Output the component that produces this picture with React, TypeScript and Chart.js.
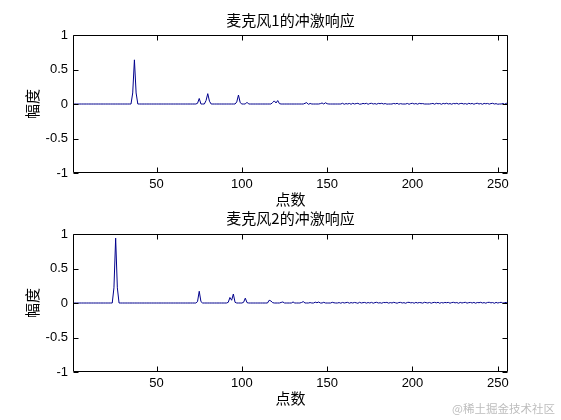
import React, { useEffect, useRef } from "react";
import { Chart, registerables } from "chart.js";

Chart.register(...registerables);

// ---------- data ----------
const sampleIndex: number[] = Array.from({ length: 256 }, (_, i) => i + 1);
const xTickValues = [50, 100, 150, 200, 250];
const yTickValues = [-1, -0.5, 0, 0.5, 1];

const chartTitles = ["麦克风1的冲激响应", "麦克风2的冲激响应"];
const xAxisLabel = "点数";
const yAxisLabel = "幅度";
const watermarkText = "@稀土掘金技术社区";

// 麦克风1 impulse response, samples 1..256 (16 per row)
const mic1Values = [
  0, 0, 0, 0, 0, 0, 0, 0, 0, 0, 0, 0, 0, 0, 0, 0,
  0, 0, 0, 0, 0, 0, 0, 0, 0, 0, 0, 0, 0, 0, 0, 0,
  0, 0, 0, 0.16, 0.64, 0.16, 0, 0, 0, 0, 0, 0, 0, 0, 0, 0,
  0, 0, 0, 0, 0, 0, 0, 0, 0, 0, 0, 0, 0, 0, 0, 0,
  0, 0, 0, 0, 0, 0, 0, 0, 0, 0.01, 0.08, 0, 0, 0, 0.05, 0.15,
  0.04, 0, 0, 0, 0, 0, 0, 0, 0, 0, 0, 0, 0, 0, 0, 0,
  0.03, 0.13, 0.02, 0, 0, 0, 0.025, 0, 0, 0, 0, 0, 0, 0, 0, 0,
  0, 0, 0, 0, 0, 0.02, 0.045, 0.015, 0.05, 0.005, 0, 0, 0, 0, 0, 0,
  0, 0, 0, 0, 0, 0, 0, 0, 0.01, 0.02, -0.005, 0.008, 0, 0, 0, 0,
  0, 0.005, 0.015, 0, 0.018, 0.004, 0, 0, 0, 0, 0, 0, 0, 0, 0.01, -0.004,
  0.006, 0, 0.008, -0.004, 0.01, 0, 0.006, 0.01, -0.003, 0, 0.008, 0.003, 0.01, -0.004, 0.007, 0.01,
  0, 0.006, -0.003, 0.009, 0.004, 0.01, 0, 0.007, -0.002, 0, 0, 0, 0.008, 0.002, 0.01, -0.003,
  0.005, 0, 0, 0, 0.008, -0.004, 0.006, 0.01, 0, 0.007, -0.003, 0.009, 0.004, 0.006, 0, 0,
  0, 0, 0.004, 0.008, -0.003, 0.01, 0.003, 0.007, -0.004, 0.009, 0.002, 0.011, 0, 0.006, -0.003, 0.008,
  0.003, 0.01, -0.002, 0.007, 0.009, 0, 0.006, -0.004, 0.01, 0.002, 0.008, -0.003, 0.006, 0.011, 0, 0.007,
  -0.004, 0.009, 0.003, 0.008, -0.002, 0.006, 0.01, 0, 0.005, -0.003, 0, 0, 0.008, -0.004, 0.01, 0.003,
];

// 麦克风2 impulse response, samples 1..256 (16 per row)
const mic2Values = [
  0, 0, 0, 0, 0, 0, 0, 0, 0, 0, 0, 0, 0, 0, 0, 0,
  0, 0, 0, 0, 0, 0, 0, 0, 0.22, 0.94, 0.22, 0, 0, 0, 0, 0,
  0, 0, 0, 0, 0, 0, 0, 0, 0, 0, 0, 0, 0, 0, 0, 0,
  0, 0, 0, 0, 0, 0, 0, 0, 0, 0, 0, 0, 0, 0, 0, 0,
  0, 0, 0, 0, 0, 0, 0, 0, 0, 0.02, 0.17, 0.02, 0, 0, 0, 0,
  0, 0, 0, 0, 0, 0, 0, 0, 0, 0, 0, 0.01, 0.08, 0.04, 0.13, 0.01,
  0, 0, 0, 0, 0.01, 0.07, 0.005, 0, 0, 0, 0, 0, 0, 0, 0, 0,
  0, 0, 0, 0.04, 0.03, 0.005, 0, 0, 0, 0, 0.008, 0.015, 0, 0, 0, 0,
  0, 0.015, 0, 0, 0, 0, 0.008, 0.02, 0, 0, 0, 0.006, 0, 0, 0.012, 0.004,
  0.014, 0, 0, 0.01, 0, 0, 0, 0, 0.01, 0.003, 0, 0, 0.006, -0.003, 0.008, 0,
  0.005, 0.009, -0.003, 0.006, 0, 0.008, 0.003, -0.004, 0.01, 0, 0.005, 0.008, -0.002, 0.007, 0, 0.009,
  -0.003, 0.006, 0.01, 0, 0.004, -0.003, 0.008, 0.005, 0.009, -0.002, 0.006, 0, 0.01, 0.003, -0.003, 0.007,
  0.009, 0, 0.005, -0.004, 0.008, 0.01, 0.002, 0.006, -0.003, 0.009, 0, 0.007, 0.004, -0.002, 0.01, 0.005,
  0, 0.008, -0.003, 0.006, 0.009, 0.002, 0.01, -0.004, 0.007, 0, 0.008, 0.004, 0.009, -0.003, 0.006, 0.01,
  0.002, 0.007, -0.004, 0.009, 0, 0.006, 0.01, -0.002, 0.005, 0.008, 0, 0.009, -0.003, 0.007, 0.004, 0.01,
  0, 0.006, -0.003, 0.008, 0.01, 0.002, 0.007, -0.004, 0.009, 0, 0.006, 0.01, -0.002, 0.005, 0.008, 0.003,
];

// ---------- styling ----------
const LINE_COLOR = "#00008c";
const TICK_FONT = { family: '"Liberation Sans", Arial, sans-serif', size: 13 };
const CJK_FONT = { family: '"Noto Sans CJK SC", sans-serif', size: 15 };

const boxPlugin = {
  id: "matlabBox",
  afterDraw(chart: any) {
    const { ctx, chartArea: a, scales } = chart;
    const xs = scales.x;
    const ys = scales.y;
    ctx.save();
    ctx.strokeStyle = "#000";
    ctx.lineWidth = 1;
    const L = Math.round(a.left) + 0.5;
    const R = Math.round(a.right) - 0.5;
    const T = Math.round(a.top) + 0.5;
    const B = Math.round(a.bottom) - 0.5;
    ctx.beginPath();
    ctx.rect(L, T, R - L, B - T);
    for (const v of xTickValues) {
      const px = Math.round(xs.getPixelForValue(v)) + 0.5;
      ctx.moveTo(px, B);
      ctx.lineTo(px, B - 5);
      ctx.moveTo(px, T);
      ctx.lineTo(px, T + 5);
    }
    for (const v of yTickValues) {
      const py = Math.round(ys.getPixelForValue(v)) + 0.5;
      ctx.moveTo(L, py);
      ctx.lineTo(L + 5, py);
      ctx.moveTo(R, py);
      ctx.lineTo(R - 5, py);
    }
    ctx.stroke();
    ctx.restore();
  },
};

type PanelProps = {
  values: number[];
  title: string;
  top: number;
  height: number;
  layoutTop: number;
  layoutBottom: number;
  titlePadTop: number;
  titlePadBottom: number;
};

function Panel(props: PanelProps) {
  const ref = useRef<HTMLCanvasElement | null>(null);
  useEffect(() => {
    if (!ref.current) return;
    const chart = new Chart(ref.current, {
      type: "line",
      data: {
        datasets: [
          {
            data: sampleIndex.map((n, i) => ({ x: n, y: props.values[i] })),
            borderColor: LINE_COLOR,
            borderWidth: 1,
            pointRadius: 0,
            fill: false,
            tension: 0,
          },
        ],
      },
      options: {
        animation: false,
        responsive: false,
        maintainAspectRatio: false,
        events: [],
        layout: {
          padding: { left: 20, right: 53, top: props.layoutTop, bottom: props.layoutBottom },
        },
        plugins: {
          legend: { display: false },
          tooltip: { enabled: false },
          title: {
            display: true,
            text: props.title,
            fullSize: false,
            color: "#000",
            font: { ...CJK_FONT, weight: "normal" },
            padding: { top: props.titlePadTop, bottom: props.titlePadBottom },
          },
        },
        scales: {
          x: {
            type: "linear",
            min: 1,
            max: 256,
            grid: { display: false, drawTicks: false },
            border: { display: false },
            afterBuildTicks: (s: any) => {
              s.ticks = xTickValues.map((v) => ({ value: v }));
            },
            afterFit: (s: any) => {
              s.height = 39;
            },
            ticks: {
              color: "#000",
              font: TICK_FONT,
              padding: 4,
              maxRotation: 0,
              autoSkip: false,
              callback: (v: any) => String(v),
            },
            title: {
              display: true,
              text: xAxisLabel,
              color: "#000",
              font: CJK_FONT,
              padding: { top: 0, bottom: 4 },
            },
          },
          y: {
            type: "linear",
            min: -1,
            max: 1,
            grid: { display: false, drawTicks: false },
            border: { display: false },
            afterBuildTicks: (s: any) => {
              s.ticks = yTickValues.map((v) => ({ value: v }));
            },
            afterFit: (s: any) => {
              s.width = 53;
            },
            ticks: {
              color: "#000",
              font: TICK_FONT,
              padding: 5,
              autoSkip: false,
              callback: (v: any) => String(v),
            },
            title: {
              display: true,
              text: yAxisLabel,
              color: "#000",
              font: CJK_FONT,
              padding: { top: 3.5, bottom: 0 },
            },
          },
        },
      },
      plugins: [boxPlugin],
    } as any);
    return () => chart.destroy();
  }, []);
  return (
    <canvas
      ref={ref}
      width={561}
      height={props.height}
      style={{ position: "absolute", left: 0, top: props.top, width: 561, height: props.height, display: "block" }}
    />
  );
}

export default function App() {
  return (
    <div style={{ position: "absolute", left: 0, top: 0, width: 561, height: 420, background: "#fff", overflow: "hidden" }}>
      <Panel values={mic1Values} title={chartTitles[0]} top={0} height={212} layoutTop={4} layoutBottom={0} titlePadTop={7} titlePadBottom={6} />
      <Panel values={mic2Values} title={chartTitles[1]} top={200} height={220} layoutTop={2} layoutBottom={9} titlePadTop={7} titlePadBottom={7} />
      <div
        style={{
          position: "absolute",
          left: 452,
          top: 400,
          fontFamily: '"Noto Sans CJK SC", sans-serif',
          fontSize: 11.5,
          color: "#bdbdbd",
          whiteSpace: "nowrap",
          lineHeight: "16px",
        }}
      >
        {watermarkText}
      </div>
    </div>
  );
}
